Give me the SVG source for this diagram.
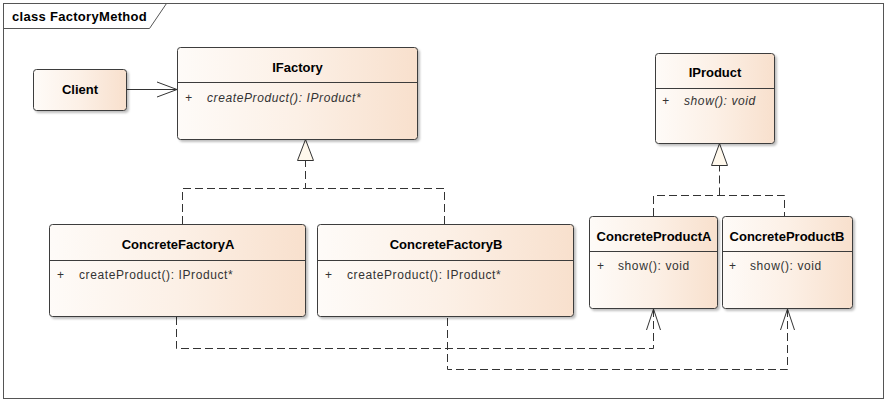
<svg xmlns="http://www.w3.org/2000/svg" width="888" height="404" viewBox="0 0 888 404">
<defs>
<linearGradient id="fill" x1="0" y1="0" x2="1" y2="0">
<stop offset="0" stop-color="#FEFBF8"/>
<stop offset="0.5" stop-color="#FCF0E6"/>
<stop offset="1" stop-color="#F8E0CD"/>
</linearGradient>
<filter id="sh" x="-5%" y="-5%" width="115%" height="130%">
<feDropShadow dx="2" dy="2" stdDeviation="1" flood-color="#000" flood-opacity="0.25"/>
</filter>
</defs>
<style>
.box{fill:url(#fill);stroke:#3c3c3c;stroke-width:1;filter:url(#sh)}
.div{stroke:#3c3c3c;stroke-width:1}
.title{font-family:"Liberation Sans",Arial,sans-serif;font-size:13px;font-weight:bold;fill:#000;text-anchor:middle}
.attr{font-family:"Liberation Sans",Arial,sans-serif;font-size:12px;fill:#333;letter-spacing:0.6px}
.it{font-style:italic}
.dash{fill:none;stroke:#333;stroke-width:1;stroke-dasharray:8,4}
.solid{fill:none;stroke:#333;stroke-width:1}
.tri{fill:#FFF8EC;stroke:#333;stroke-width:1}
.frame{fill:none;stroke:#555;stroke-width:1}
</style>
<rect width="888" height="404" fill="#fff"/>
<g id="frame">
<rect class="frame" x="3.5" y="3.5" width="880" height="395"/>
<path class="frame" d="M3.5,28.5 H149.5 L166.5,3.5"/>
<text x="12" y="21" font-family="Liberation Sans,Arial,sans-serif" font-size="13" font-weight="bold" letter-spacing="0.3" fill="#000">class FactoryMethod</text>
</g>
<g id="connectors">
<line class="solid" x1="127" y1="89.5" x2="177" y2="89.5"/>
<polyline class="solid" points="157,82 177,89.5 157,97"/>
<path class="dash" d="M182.5,224 V188.5 H305.5 V160"/>
<path class="dash" d="M444.5,224 V188.5 H305.5"/>
<polygon class="tri" points="305.5,139.5 297.5,160.5 313.5,160.5"/>
<path class="dash" d="M653.5,216 V195.5 H784.5 V216"/>
<path class="dash" d="M719.5,195.5 V165"/>
<polygon class="tri" points="719.5,143.5 711.5,165.5 727.5,165.5"/>
<path class="dash" d="M176.5,317 V348.5 H653.5 V310"/>
<polyline class="solid" points="646.5,330 653.5,309 660.5,330"/>
<path class="dash" d="M447.5,318 V369.5 H787.5 V310"/>
<polyline class="solid" points="780.5,330 787.5,309 794.5,330"/>
</g>
<g id="Client">
<rect class="box" x="33.5" y="69.5" width="93" height="41" rx="3"/>
<text class="title" x="80" y="94">Client</text>
</g>
<g id="IFactory">
<rect class="box" x="177.5" y="47.5" width="240" height="92" rx="3"/>
<line class="div" x1="177.5" y1="82.5" x2="417.5" y2="82.5"/>
<text class="title" x="297.5" y="72">IFactory</text>
<text class="attr it" x="185" y="102">+</text>
<text class="attr it" x="207" y="102">createProduct(): IProduct*</text>
</g>
<g id="IProduct">
<rect class="box" x="655.5" y="53.5" width="119" height="90" rx="3"/>
<line class="div" x1="655.5" y1="88.5" x2="774.5" y2="88.5"/>
<text class="title" x="715" y="77">IProduct</text>
<text class="attr it" x="662" y="105">+</text>
<text class="attr it" x="684" y="105">show(): void</text>
</g>
<g id="ConcreteFactoryA">
<rect class="box" x="49.5" y="224.5" width="256" height="92" rx="3"/>
<line class="div" x1="49.5" y1="260.5" x2="305.5" y2="260.5"/>
<text class="title" x="178" y="249">ConcreteFactoryA</text>
<text class="attr" x="57" y="279">+</text>
<text class="attr" x="79" y="279">createProduct(): IProduct*</text>
</g>
<g id="ConcreteFactoryB">
<rect class="box" x="317.5" y="224.5" width="256" height="92" rx="3"/>
<line class="div" x1="317.5" y1="260.5" x2="573.5" y2="260.5"/>
<text class="title" x="446" y="249">ConcreteFactoryB</text>
<text class="attr" x="325" y="279">+</text>
<text class="attr" x="347" y="279">createProduct(): IProduct*</text>
</g>
<g id="ConcreteProductA">
<rect class="box" x="589.5" y="216.5" width="128" height="92" rx="3"/>
<line class="div" x1="589.5" y1="251.5" x2="717.5" y2="251.5"/>
<text class="title" x="654" y="241">ConcreteProductA</text>
<text class="attr" x="597" y="270">+</text>
<text class="attr" x="618" y="270">show(): void</text>
</g>
<g id="ConcreteProductB">
<rect class="box" x="722.5" y="216.5" width="130" height="92" rx="3"/>
<line class="div" x1="722.5" y1="251.5" x2="852.5" y2="251.5"/>
<text class="title" x="787" y="241">ConcreteProductB</text>
<text class="attr" x="729" y="270">+</text>
<text class="attr" x="750" y="270">show(): void</text>
</g>
</svg>
